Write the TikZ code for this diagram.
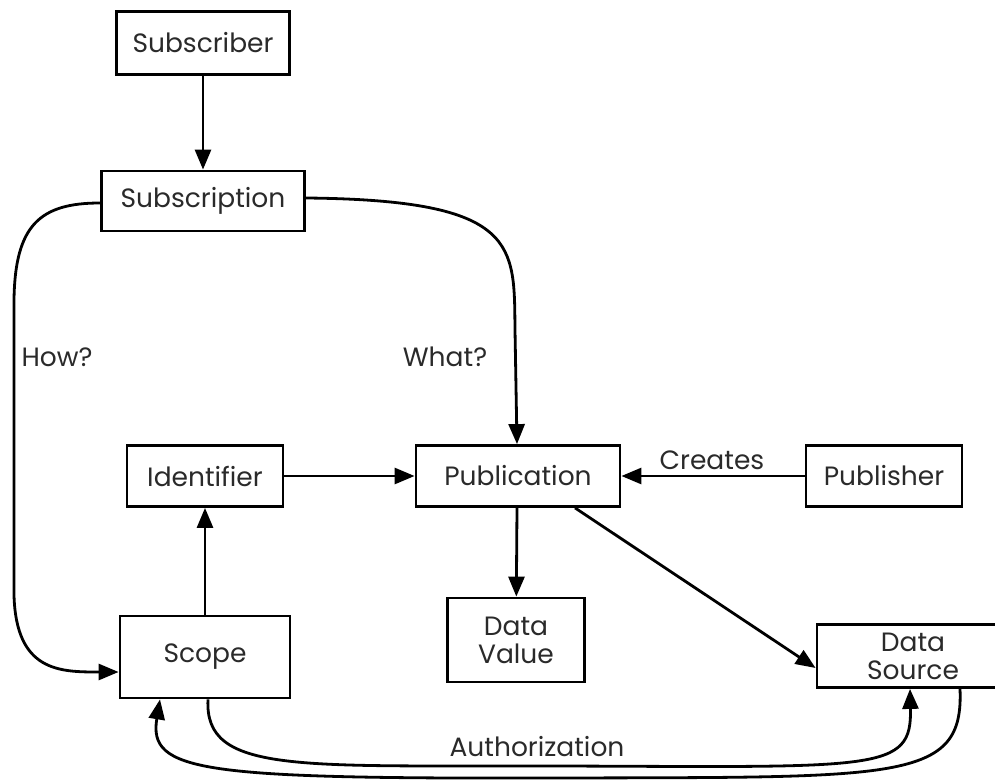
\documentclass[tikz,border=0pt]{standalone}
\usepackage{fontspec}
\setmainfont{Poppins}
\usetikzlibrary{arrows.meta}
\definecolor{ink}{HTML}{2A2A2A}
\tikzset{
  box/.style={draw=black, line width=2.8pt, fill=white, text=ink,
    inner sep=0pt, align=center, font=\fontsize{26.5}{28}\selectfont},
  conn/.style={draw=black, line width=2.8pt,
    -{Triangle[length=20pt,width=16pt]}},
  lbl/.style={text=ink, inner sep=0pt, font=\fontsize{26.5}{28}\selectfont},
}
\begin{document}
\begin{tikzpicture}[x=1pt,y=-1pt]
  \useasboundingbox (0,0) rectangle (995,783);
  \clip (0,0) rectangle (995,783);

  % boxes
  \node[box, minimum width=173pt, minimum height=63pt] (subscriber)   at (203,43)  {Subscriber};
  \node[box, minimum width=203pt, minimum height=60pt] (subscription) at (203,201) {Subscription};
  \node[box, minimum width=156pt, minimum height=61pt] (identifier)   at (205,476) {Identifier};
  \node[box, minimum width=170pt, minimum height=82pt] (scope)        at (205,657) {Scope};
  \node[box, minimum width=204pt, minimum height=61pt] (publication)  at (518,476) {Publication};
  \node[box, minimum width=156pt, minimum height=61pt] (publisher)    at (884,476) {Publisher};
  \node[box, minimum width=137pt, minimum height=84pt] (datavalue)    at (516,640) {Data\\Value};
  \node[box, minimum width=192pt, minimum height=63pt] (datasource)   at (913,656) {Data\\Source};

  % attachment points on the boxes (y grows downward here)
  \coordinate (subL)  at ([yshift=-2pt]subscription.west);
  \coordinate (subR)  at ([yshift=3pt]subscription.east);
  \coordinate (scL)   at ([yshift=-15pt]scope.west);
  \coordinate (scB1)  at ([xshift=3pt]scope.south);
  \coordinate (scB2)  at ([xshift=-45pt]scope.south);
  \coordinate (pubT)  at ([xshift=-1pt]publication.north);
  \coordinate (pubB)  at ([xshift=-1pt]publication.south);
  \coordinate (pubBR) at ([xshift=57pt]publication.south);
  \coordinate (dsL)   at ([yshift=-12pt]datasource.west);
  \coordinate (dsB1)  at ([xshift=-3pt]datasource.south);
  \coordinate (dsB2)  at ([xshift=47pt]datasource.south);

  % connectors
  \draw[conn] (subscriber) -- (subscription);
  \draw[conn] (subL) .. controls (40,203) and (15,225) .. (14,300)
              -- (14,595) .. controls (16,672) and (60,672) .. (scL);
  \draw[conn] (subR) .. controls (520,200) and (514,245) .. (515,330)
              -- (pubT);
  \draw[conn] (identifier) -- (publication);
  \draw[conn] (publisher) -- (publication);
  \draw[conn] (pubB) -- (datavalue);
  \draw[conn] (pubBR) -- (dsL);
  \draw[conn] (scope) -- (identifier);
  \draw[conn] (scB1) .. controls (204,775) and (300,765) .. (560,766)
              .. controls (880,767) and (912,772) .. (dsB1);
  \draw[conn] (dsB2) .. controls (964,782) and (900,777) .. (560,778)
              .. controls (200,779) and (148,772) .. (scB2);

  % labels
  \node[lbl] (how)     at (57,357)  {How?};
  \node[lbl] (what)    at (445,357) {What?};
  \node[lbl] (creates) at (712,460) {Creates};
  \node[lbl] (auth)    at (537,747) {Authorization};
\end{tikzpicture}
\end{document}
